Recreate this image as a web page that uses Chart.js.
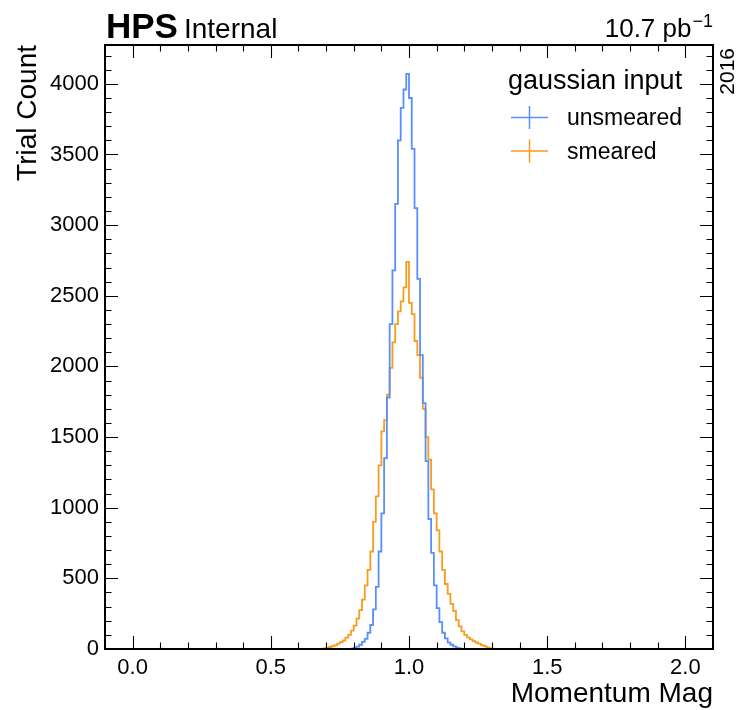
<!DOCTYPE html>
<html>
<head>
<meta charset="utf-8">
<script src="https://cdn.jsdelivr.net/npm/chart.js@4.4.1/dist/chart.umd.min.js"></script>
<style>
  body { margin: 0; background: #fff; }
</style>
</head>
<body>
<canvas id="chart" width="738" height="710"></canvas>
<script>
// histogram range and binning (200 bins over 0..2, only 0.69..1.32 is non-empty)
const histLow = 0.0;
const histHigh = 2.0;
const firstEdge = 0.69;
const binWidth = 0.01;

// bin counts, one per bin starting at firstEdge
const unsmeared = [
  0, 0, 0, 0, 0, 0, 0, 0, 0, 0,
  1, 3, 8, 17, 30, 50, 72, 115, 170, 280,
  440, 690, 960, 1350, 1780, 2300, 2680, 3150, 3600, 3830,
  3960, 4070, 3900, 3540, 3120, 2620, 2080, 1740, 1330, 920,
  680, 450, 290, 190, 115, 75, 45, 30, 18, 10,
  4, 1, 0, 0, 0, 0, 0, 0, 0, 0,
  0, 0, 0
];
const smeared = [
  0, 4, 8, 14, 20, 28, 38, 48, 60, 80,
  100, 130, 165, 215, 275, 350, 450, 560, 690, 900,
  1080, 1300, 1540, 1620, 1800, 1990, 2170, 2300, 2390, 2460,
  2560, 2740, 2450, 2370, 2180, 2080, 1920, 1700, 1500, 1340,
  1130, 960, 840, 690, 560, 460, 390, 320, 270, 205,
  160, 125, 100, 82, 68, 56, 46, 38, 28, 20,
  12, 5, 1
];

const seriesNames = ['unsmeared', 'smeared'];
const seriesColors = ['#5790fc', '#f89c20'];

const xMajor = [0, 0.5, 1.0, 1.5, 2.0];
const xTickLabels = ['0.0', '0.5', '1.0', '1.5', '2.0'];
const xMinorStep = 0.1;
const yMajor = [0, 500, 1000, 1500, 2000, 2500, 3000, 3500, 4000];
const yTickLabels = ['0', '500', '1000', '1500', '2000', '2500', '3000', '3500', '4000'];
const yMinorStep = 100;

const FONT = "'Liberation Sans', Arial, Helvetica, sans-serif";

function toSteps(counts) {
  const pts = [{ x: histLow, y: 0 }];
  counts.forEach((c, i) => pts.push({ x: +(firstEdge + i * binWidth).toFixed(3), y: c }));
  pts.push({ x: +(firstEdge + counts.length * binWidth).toFixed(3), y: 0 });
  pts.push({ x: histHigh, y: 0 });
  return pts;
}

// frame, inward ticks on all four sides, and the text around the axes
const decorations = {
  id: 'decorations',
  afterDraw(chart) {
    const ctx = chart.ctx;
    const { left, right, top, bottom } = chart.chartArea;
    const xs = chart.scales.x;
    const ys = chart.scales.y;
    ctx.save();

    ctx.strokeStyle = '#000';
    ctx.lineWidth = 1.1;
    ctx.beginPath();
    for (let v = -0.1; v <= 2.1 + 1e-9; v += xMinorStep) {
      const px = Math.round(xs.getPixelForValue(v)) + 0.5;
      const major = xMajor.some(m => Math.abs(m - v) < 1e-6);
      const len = major ? 13 : 6.5;
      ctx.moveTo(px, bottom); ctx.lineTo(px, bottom - len);
      ctx.moveTo(px, top); ctx.lineTo(px, top + len);
    }
    for (let v = 0; v <= ys.max; v += yMinorStep) {
      const py = Math.round(ys.getPixelForValue(v)) + 0.5;
      const major = yMajor.includes(v);
      const len = major ? 13 : 6.5;
      ctx.moveTo(left, py); ctx.lineTo(left + len, py);
      ctx.moveTo(right, py); ctx.lineTo(right - len, py);
    }
    ctx.stroke();

    ctx.lineWidth = 2;
    ctx.strokeRect(left, top, right - left, bottom - top);

    ctx.fillStyle = '#000';
    ctx.textBaseline = 'alphabetic';

    // experiment label
    ctx.textAlign = 'left';
    ctx.font = 'bold 35px ' + FONT;
    ctx.fillText('HPS', 106, 38);
    const hpsW = ctx.measureText('HPS').width;
    ctx.font = '28px ' + FONT;
    ctx.fillText('Internal', 106 + hpsW + 6, 38);

    // luminosity
    ctx.font = '18px ' + FONT;
    const supW = ctx.measureText('\u22121').width;
    ctx.textAlign = 'right';
    ctx.fillText('\u22121', right, 27);
    ctx.font = '26px ' + FONT;
    ctx.fillText('10.7 pb', right - supW - 1, 37);

    // year, rotated on the right side
    ctx.save();
    ctx.translate(734, top + 3);
    ctx.rotate(-Math.PI / 2);
    ctx.font = '21px ' + FONT;
    ctx.textAlign = 'right';
    ctx.fillText('2016', 0, 0);
    ctx.restore();

    // axis titles
    ctx.font = '28px ' + FONT;
    ctx.textAlign = 'right';
    ctx.fillText('Momentum Mag', right, 702);
    ctx.save();
    ctx.translate(36, top);
    ctx.rotate(-Math.PI / 2);
    ctx.textAlign = 'right';
    ctx.fillText('Trial Count', 0, 0);
    ctx.restore();

    // legend
    ctx.textAlign = 'left';
    ctx.font = '27px ' + FONT;
    ctx.fillText('gaussian input', 508, 89);
    ctx.font = '23px ' + FONT;
    seriesNames.forEach((name, i) => {
      const cy = 117.5 + i * 33.5;
      ctx.strokeStyle = seriesColors[i];
      ctx.lineWidth = 1.5;
      ctx.beginPath();
      ctx.moveTo(511, cy); ctx.lineTo(548, cy);
      ctx.moveTo(529.5, cy - 11.5); ctx.lineTo(529.5, cy + 11.5);
      ctx.stroke();
      ctx.fillText(name, 567, cy + 7.5);
    });

    ctx.restore();
  }
};

new Chart(document.getElementById('chart'), {
  type: 'line',
  data: {
    datasets: [unsmeared, smeared].map((counts, i) => ({
      label: seriesNames[i],
      data: toSteps(counts),
      borderColor: seriesColors[i],
      borderWidth: 1.8,
      stepped: 'after',
      pointRadius: 0,
      fill: false
    }))
  },
  options: {
    responsive: false,
    animation: false,
    layout: { padding: { top: 45, right: 25, left: 0, bottom: 0 } },
    plugins: { legend: { display: false }, tooltip: { enabled: false } },
    scales: {
      x: {
        type: 'linear',
        min: -0.1,
        max: 2.1,
        grid: { display: false, drawTicks: false },
        border: { display: false },
        afterBuildTicks: s => { s.ticks = xMajor.map(v => ({ value: v })); },
        afterFit: s => { s.height = 61; },
        ticks: {
          autoSkip: false,
          maxRotation: 0,
          padding: 6,
          color: '#000',
          font: { family: FONT, size: 22 },
          callback: (v) => xTickLabels[xMajor.indexOf(v)]
        }
      },
      y: {
        type: 'linear',
        min: 0,
        max: 4275,
        grid: { display: false, drawTicks: false },
        border: { display: false },
        afterBuildTicks: s => { s.ticks = yMajor.map(v => ({ value: v })); },
        afterFit: s => { s.width = 105; },
        ticks: {
          autoSkip: false,
          padding: 6,
          color: '#000',
          font: { family: FONT, size: 22 },
          callback: (v) => yTickLabels[yMajor.indexOf(v)]
        }
      }
    }
  },
  plugins: [decorations]
});
</script>
</body>
</html>
